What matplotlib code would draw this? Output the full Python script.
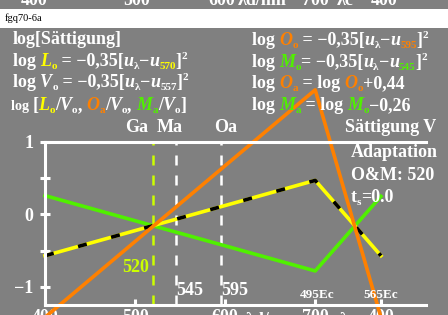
import numpy as np
import matplotlib
matplotlib.use("Agg")
import matplotlib.pyplot as plt
from matplotlib.patches import Rectangle

# wavelength axis: 400..700 nm, then the purple part (495Ec..565Ec)
x_pts = [400, 700, 773]
green_M = [0.26, -0.78, 0.25]
yellow_L = [-0.57, 0.47, -0.57]
orange_O = [-1.42, 1.72, -1.42]

ga, ma, oa = 520, 545, 595
xticks = [400, 500, 600, 700, 773]
xticklabels = ["400", "500", "600", "700", "400"]
yticks = [-1, -0.5, 0, 0.5, 1]
yticklabels = ["\u22121", "", "0", "", "1"]

W, H = 448, 315
GRAY = "#808080"
YEL = "#ffff00"
ORA = "#ff8000"
GRN = "#50f000"
YG = "#ccff00"
WH = "white"
FAM = "Liberation Serif"

fig = plt.figure(figsize=(W / 100, H / 100), dpi=100, facecolor=GRAY)
fig.add_artist(Rectangle((0, 1 - 28 / H), 1, 19 / H, transform=fig.transFigure,
                         facecolor="white", edgecolor="none"))
fig.text(5 / W, 1 - 21 / H, "fgq70-6a", fontsize=7.5, family=FAM, color="black", va="baseline")

# bits of the tick labels of the chart above, cut off at the top
for xp, s in [(34, "400"), (137, "500"), (222, "600"), (262, "\u03bbd/nm"),
              (315, "700"), (345, "\u03bbc"), (384, "400")]:
    fig.text(xp / W, 1 - 5 / H, s, fontsize=13, family=FAM, weight="bold",
             color=WH, ha="center", va="baseline")

ax = fig.add_axes([45 / W, 10 / H, 381 / W, 163 / H])
ax.set_facecolor("none")
ax.set_xlim(400, 823)
ax.set_ylim(-1.25, 1.0)
for sp in ["left", "bottom", "top"]:
    ax.spines[sp].set_color(WH)
    ax.spines[sp].set_linewidth(2.2)
ax.spines["right"].set_visible(False)
ax.set_xticks(xticks)
ax.set_xticklabels(xticklabels)
ax.set_yticks(yticks)
ax.set_yticklabels(yticklabels)
ax.tick_params(axis="x", direction="in", length=4, width=2.2, color=WH, pad=3)
ax.tick_params(axis="y", direction="inout", length=7, width=2.2, color=WH, pad=5)
for lab in ax.get_xticklabels() + ax.get_yticklabels():
    lab.set_family(FAM)
    lab.set_weight("bold")
    lab.set_color(WH)
    lab.set_fontsize(13)
# unit labels between the bottom ticks (cut off by the lower edge)
for xv, s in [(650, "\u03bbd/nm"), (737, "\u03bbc")]:
    ax.annotate(s, (xv, 0), xycoords=("data", "axes fraction"), xytext=(0, -5.2),
                textcoords="offset points", ha="center", va="top", color=WH,
                fontsize=13, family=FAM, weight="bold")

ax.axvline(ga, color=YG, lw=1.8, dashes=(4, 4), clip_on=False)
ax.axvline(ma, color=WH, lw=1.8, dashes=(4, 4))
ax.axvline(oa, color=WH, lw=1.8, dashes=(4, 4))

ax.plot(x_pts, green_M, color=GRN, lw=2.6, clip_on=False)
ax.plot(x_pts, yellow_L, color=YEL, lw=2.6, clip_on=False)
ax.plot(x_pts, yellow_L, color="black", lw=2.6, dashes=(2.5, 7), clip_on=False)
ax.plot(x_pts, orange_O, color=ORA, lw=2.6, clip_on=False)

ax.text(ga - 4, -0.8, str(ga), color=YG, fontsize=13, family=FAM, weight="bold",
        ha="right", va="baseline")
ax.text(ma + 1, -1.11, str(ma), color=WH, fontsize=13, family=FAM, weight="bold", va="baseline")
ax.text(oa + 1, -1.11, str(oa), color=WH, fontsize=13, family=FAM, weight="bold", va="baseline")
ax.text(702, -1.15, "495Ec", color=WH, fontsize=9.5, family=FAM, weight="bold",
        ha="center", va="baseline")
ax.text(773, -1.15, "565Ec", color=WH, fontsize=9.5, family=FAM, weight="bold",
        ha="center", va="baseline")

renderer = fig.canvas.get_renderer()


def rich(x, y, parts, size=13):
    # x, y: left / baseline in pixels from top-left
    for s, c, kind in parts:
        fs, dy, st = size, 0, "normal"
        if kind == "i":
            st = "italic"
        elif kind == "s":
            fs, dy = size * 0.62, -3
        elif kind == "p":
            fs, dy = size * 0.62, 7
        elif kind == "m":
            fs = size * 0.78
        t = fig.text(x / W, 1 - (y - dy) / H, s, color=c, fontsize=fs, style=st,
                     family=FAM, weight="bold", va="baseline")
        x += t.get_window_extent(renderer).width


rich(13, 44, [("log[S\u00e4ttigung]", WH, "n")])
rich(13, 66, [("log ", WH, "n"), ("L", YEL, "i"), ("o", YEL, "s"),
              (" = \u22120,35[", WH, "n"), ("u", WH, "i"), ("\u03bb", WH, "s"),
              ("\u2212", WH, "n"), ("u", WH, "i"), ("570", YEL, "s"), ("]", WH, "n"), ("2", WH, "p")])
rich(13, 87, [("log ", WH, "n"), ("V", WH, "i"), ("o", WH, "s"),
              (" = \u22120,35[", WH, "n"), ("u", WH, "i"), ("\u03bb", WH, "s"),
              ("\u2212", WH, "n"), ("u", WH, "i"), ("557", WH, "s"), ("]", WH, "n"), ("2", WH, "p")])
rich(11, 110, [("log ", WH, "m"), ("[", WH, "n"), ("L", YEL, "i"), ("o", YEL, "s"),
               ("/", WH, "n"), ("V", WH, "i"), ("o", WH, "s"), (", ", WH, "n"),
               ("O", ORA, "i"), ("a", ORA, "s"), ("/", WH, "n"), ("V", WH, "i"), ("o", WH, "s"),
               (", ", WH, "n"), ("M", GRN, "i"), ("a", GRN, "s"), ("/", WH, "n"),
               ("V", WH, "i"), ("o", WH, "s"), ("]", WH, "n")])

rich(252, 45, [("log ", WH, "n"), ("O", ORA, "i"), ("o", ORA, "s"),
               (" = \u22120,35[", WH, "n"), ("u", WH, "i"), ("\u03bb", WH, "s"),
               ("\u2212", WH, "n"), ("u", WH, "i"), ("595", ORA, "s"), ("]", WH, "n"), ("2", WH, "p")])
rich(252, 67, [("log ", WH, "n"), ("M", GRN, "i"), ("o", GRN, "s"),
               ("= \u22120,35[", WH, "n"), ("u", WH, "i"), ("\u03bb", WH, "s"),
               ("\u2212", WH, "n"), ("u", WH, "i"), ("545", GRN, "s"), ("]", WH, "n"), ("2", WH, "p")])
rich(252, 88, [("log ", WH, "n"), ("O", ORA, "i"), ("a", ORA, "s"), (" = log ", WH, "n"),
               ("O", ORA, "i"), ("o", ORA, "s"), ("+0,44", WH, "n")])
rich(252, 110, [("log ", WH, "n"), ("M", GRN, "i"), ("a", GRN, "s"), (" = log ", WH, "n"),
                ("M", GRN, "i"), ("o", GRN, "s"), ("\u22120,26", WH, "n")])

for xp, s in [(137, "Ga"), (170, "Ma"), (226, "Oa")]:
    fig.text(xp / W, 1 - 132 / H, s, color=WH, fontsize=13, family=FAM, weight="bold",
             ha="center", va="baseline")
fig.text(436 / W, 1 - 132 / H, "S\u00e4ttigung V", color=WH, fontsize=13, family=FAM,
         weight="bold", ha="right", va="baseline")
fig.text(351 / W, 1 - 157 / H, "Adaptation", color=WH, fontsize=13, family=FAM,
         weight="bold", va="baseline")
fig.text(351 / W, 1 - 180 / H, "O&M: 520", color=WH, fontsize=13, family=FAM,
         weight="bold", va="baseline")
rich(351, 202, [("t", WH, "n"), ("s", WH, "s"), ("=0.0", WH, "n")])

fig.savefig("out.png", dpi=100, facecolor=GRAY)
